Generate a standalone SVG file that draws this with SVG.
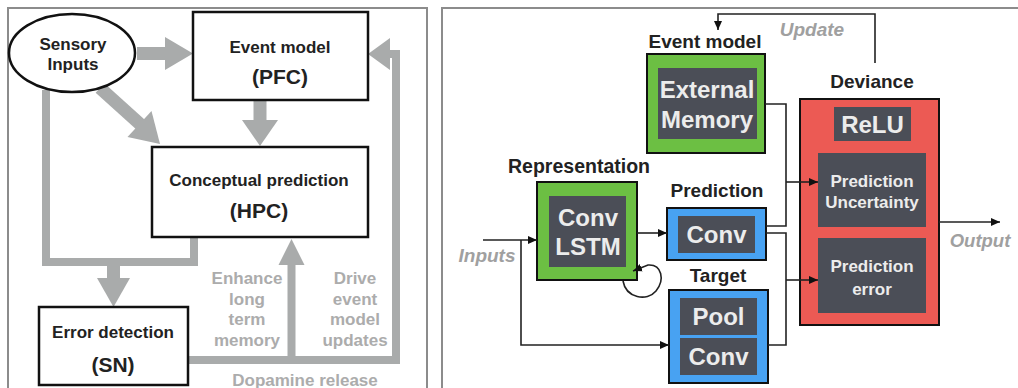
<svg xmlns="http://www.w3.org/2000/svg" width="1018" height="388" viewBox="0 0 1018 388">
<defs>
<style>
.frame{fill:none;stroke:#8c8c8c;stroke-width:2}
.box{fill:#fff;stroke:#111;stroke-width:2.5}
.lbl{font-family:"Liberation Sans",Arial,sans-serif;font-weight:bold;fill:#222;text-anchor:middle}
.glbl{font-family:"Liberation Sans",Arial,sans-serif;font-weight:bold;fill:#acacac;text-anchor:middle;font-size:17px}
.ital{font-family:"Liberation Sans",Arial,sans-serif;font-weight:bold;font-style:italic;fill:#a0a0a0;text-anchor:middle}
.inner{font-family:"Liberation Sans",Arial,sans-serif;font-weight:bold;fill:#ececec;text-anchor:middle}
.garrow{fill:#a9abab}
.gline{fill:none;stroke:#a9abab}
.green{fill:#6cbf43;stroke:#111;stroke-width:2}
.blue{fill:#48a2f2;stroke:#111;stroke-width:2}
.red{fill:#ec5a54;stroke:#111;stroke-width:2}
.dark{fill:#4b4e57}
.conn{fill:none;stroke:#222;stroke-width:1.6}
</style>
<marker id="ah" markerUnits="userSpaceOnUse" markerWidth="10" markerHeight="10" refX="9" refY="5" orient="auto">
<path d="M0,1 L9,5 L0,9 Z" fill="#111"/>
</marker>
</defs>

<!-- panel frames -->
<g id="frames">
<path class="frame" d="M8,390 V8 H427 V390"/>
<path class="frame" d="M442,390 V8 H1018"/>
</g>

<!-- left panel connectors -->
<g id="left-connectors">
<rect class="garrow" x="137" y="47" width="31" height="13"/>
<polygon class="garrow" points="165,37 193,53.5 165,70"/>
<line class="gline" x1="100" y1="88" x2="141" y2="125" stroke-width="13"/>
<polygon class="garrow" points="127.5,137 151.5,111 160,144"/>
<rect class="garrow" x="253.5" y="100" width="13" height="22"/>
<polygon class="garrow" points="242,120 278,120 260,146"/>
<path class="gline" stroke-width="8" d="M46,90 V262 H194 V237"/>
<rect class="garrow" x="107" y="262" width="13" height="18"/>
<polygon class="garrow" points="97,278 130,278 113.5,307"/>
<path class="gline" stroke-width="8" d="M188,360 H396 V54 H386"/>
<polygon class="garrow" points="390,38 368,54 390,70"/>
<rect class="garrow" x="287.5" y="262" width="8" height="98"/>
<polygon class="garrow" points="278.5,265 304.5,265 291.5,239"/>
</g>

<g id="sensory">
<ellipse cx="72" cy="53" rx="63" ry="39" fill="#fff" stroke="#111" stroke-width="2.5"/>
<text class="lbl" x="73" y="50" font-size="17">Sensory</text>
<text class="lbl" x="73" y="70" font-size="17">Inputs</text>
</g>
<g id="event-model-pfc">
<rect class="box" x="193" y="12" width="175" height="88"/>
<text class="lbl" x="280" y="53" font-size="17">Event model</text>
<text class="lbl" x="280" y="84" font-size="21">(PFC)</text>
</g>
<g id="conceptual">
<rect class="box" x="152" y="147" width="216" height="90"/>
<text class="lbl" x="259" y="186" font-size="17">Conceptual prediction</text>
<text class="lbl" x="259" y="218" font-size="21">(HPC)</text>
</g>
<g id="error-detection">
<rect class="box" x="39" y="307" width="149" height="78"/>
<text class="lbl" x="113" y="338" font-size="17">Error detection</text>
<text class="lbl" x="113" y="372" font-size="21">(SN)</text>
</g>
<g id="left-labels">
<text class="glbl" x="247" y="284">Enhance</text>
<text class="glbl" x="247" y="305">long</text>
<text class="glbl" x="247" y="325">term</text>
<text class="glbl" x="247" y="346">memory</text>
<text class="glbl" x="355" y="284">Drive</text>
<text class="glbl" x="355" y="305">event</text>
<text class="glbl" x="355" y="325">model</text>
<text class="glbl" x="355" y="346">updates</text>
<text class="glbl" x="305" y="386" font-size="16">Dopamine release</text>
</g>

<g id="right-labels">
<text class="ital" x="812" y="36" font-size="19">Update</text>
<text class="ital" x="487" y="262" font-size="19">Inputs</text>
<text class="ital" x="980" y="247" font-size="18.5">Output</text>
</g>

<g id="external-memory">
<text class="lbl" x="705" y="48" font-size="19">Event model</text>
<rect class="green" x="647" y="54" width="118" height="99"/>
<rect class="dark" x="658" y="68" width="99" height="71"/>
<text class="inner" x="707" y="98" font-size="24">External</text>
<text class="inner" x="707" y="128" font-size="24">Memory</text>
</g>

<g id="conv-lstm">
<text class="lbl" x="579" y="173" font-size="19.5">Representation</text>
<rect class="green" x="537" y="182" width="100" height="98"/>
<rect class="dark" x="549" y="196" width="77" height="71"/>
<text class="inner" x="588" y="226" font-size="24">Conv</text>
<text class="inner" x="588" y="255" font-size="24">LSTM</text>
</g>

<g id="prediction">
<text class="lbl" x="717" y="197" font-size="19">Prediction</text>
<rect class="blue" x="667" y="208" width="99" height="52"/>
<rect class="dark" x="678" y="216" width="77" height="37"/>
<text class="inner" x="716.5" y="243" font-size="24">Conv</text>
</g>

<g id="target">
<text class="lbl" x="718" y="282" font-size="19">Target</text>
<rect class="blue" x="669" y="290" width="99" height="93"/>
<rect class="dark" x="680" y="298" width="77" height="37"/>
<rect class="dark" x="680" y="338" width="77" height="37"/>
<text class="inner" x="718.5" y="325" font-size="24">Pool</text>
<text class="inner" x="718.5" y="365" font-size="24">Conv</text>
</g>

<g id="deviance">
<text class="lbl" x="872" y="88" font-size="19">Deviance</text>
<rect class="red" x="800" y="99" width="139" height="226"/>
<rect class="dark" x="834" y="107" width="77" height="34"/>
<text class="inner" x="872.5" y="133" font-size="24">ReLU</text>
<rect class="dark" x="818" y="153" width="108" height="74"/>
<text class="inner" x="872" y="187" font-size="17">Prediction</text>
<text class="inner" x="872" y="208" font-size="17">Uncertainty</text>
<rect class="dark" x="818" y="238" width="108" height="75"/>
<text class="inner" x="872" y="272" font-size="17">Prediction</text>
<text class="inner" x="872" y="295" font-size="17">error</text>
</g>

<!-- right panel connectors -->
<g id="right-connectors">
<path class="conn" d="M875,63 V14 H718 V30" marker-end="url(#ah)"/>
<path class="conn" d="M483,240 H537" marker-end="url(#ah)"/>
<path class="conn" d="M521,240 V345 H669" marker-end="url(#ah)"/>
<path class="conn" d="M637,233 H667" marker-end="url(#ah)"/>
<path class="conn" d="M623,281 C626,298 647,302 656,291 C665,280 662,264 648,265 L633,271" marker-end="url(#ah)"/>
<path class="conn" d="M765,104 H786 V226 H766"/>
<path class="conn" d="M786,182 H818" marker-end="url(#ah)"/>
<path class="conn" d="M766,233 H786 V345 H768"/>
<path class="conn" d="M786,280 H818" marker-end="url(#ah)"/>
<path class="conn" d="M939,222 H1000" marker-end="url(#ah)"/>
</g>
</svg>
